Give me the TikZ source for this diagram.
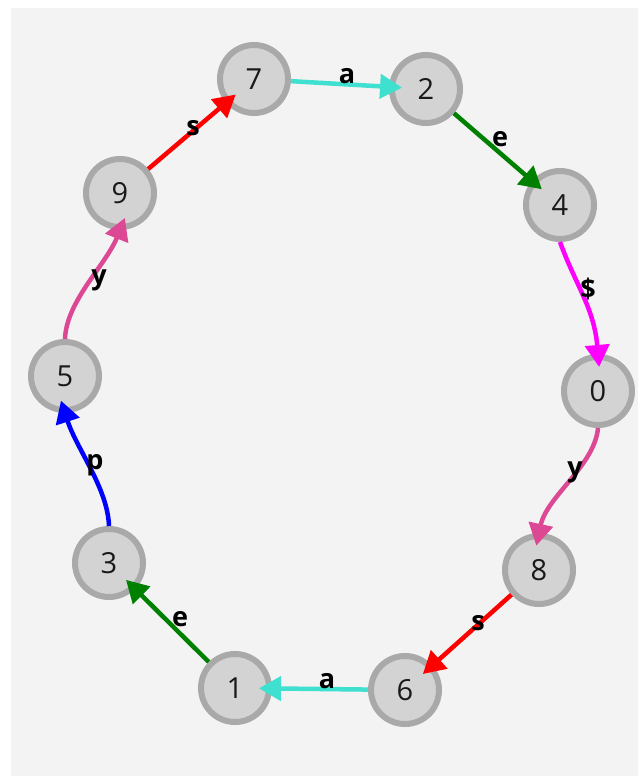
\documentclass[tikz,border=0pt]{standalone}
\usepackage{fontspec}
\setmainfont{Open Sans}
\usetikzlibrary{arrows.meta}
\definecolor{canvas}{HTML}{F3F3F3}
\definecolor{nodefill}{HTML}{D3D3D3}
\definecolor{nodeborder}{HTML}{A9A9A9}
\definecolor{cA}{HTML}{40E0D0}
\definecolor{cE}{HTML}{008000}
\definecolor{cD}{HTML}{FF00FF}
\definecolor{cY}{HTML}{DC4894}
\definecolor{cS}{HTML}{FF0000}
\definecolor{cP}{HTML}{0000FF}
\begin{document}
\begin{tikzpicture}[x=1pt,y=-1pt,
  vert/.style={circle, draw=nodeborder, fill=nodefill, line width=6pt,
    minimum size=68pt, inner sep=0pt, text=black!90,
    font=\fontsize{29}{29}\selectfont},
  link/.style={line width=4.5pt, -{Triangle[length=22pt,width=24pt]},
    shorten >=-13pt},
  lbl/.style={inner sep=0pt, text=black, font=\fontsize{27}{27}\selectfont\bfseries}
]
\useasboundingbox (0,0) rectangle (638,776);
\fill[canvas] (11,8) rectangle (638,776);

% states of the ring
\node[vert] (n7) at (254,79) {7};
\node[vert] (n2) at (426,89) {2};
\node[vert] (n4) at (560,205) {4};
\node[vert] (n0) at (598,391) {0};
\node[vert] (n8) at (539,570) {8};
\node[vert] (n6) at (405,690) {6};
\node[vert] (n1) at (235,688) {1};
\node[vert] (n3) at (109,563) {3};
\node[vert] (n5) at (65,376) {5};
\node[vert] (n9) at (120,193) {9};

% transitions
\draw[link, cA] (n7) -- (n2);
\draw[link, cE] (n2) -- (n4);
\draw[link, cD] (n4.south) to[out=-70, in=95] (n0.north);
\draw[link, cY] (n0.south) to[out=-95, in=78, looseness=0.8] (n8.north);
\draw[link, cS] (n8) -- (n6);
\draw[link, cA] (n6) -- (n1);
\draw[link, cE] (n1) -- (n3);
\draw[link, cP] (n3.north) to[out=92, in=-72, looseness=0.8] (n5.south);
\draw[link, cY] (n5.north) to[out=88, in=-112, looseness=0.8] (n9.south);
\draw[link, cS] (n9) -- (n7);

% transition labels
\node[lbl] (l72) at (347,76) {a};
\node[lbl] (l24) at (500,139) {e};
\node[lbl] (l40) at (588,289) {\$};
\node[lbl] (l08) at (575,472) {y};
\node[lbl] (l86) at (478,623) {s};
\node[lbl] (l61) at (327,681) {a};
\node[lbl] (l13) at (180,619) {e};
\node[lbl] (l35) at (95,465) {p};
\node[lbl] (l59) at (99,280) {y};
\node[lbl] (l97) at (193,128) {s};
\end{tikzpicture}
\end{document}
